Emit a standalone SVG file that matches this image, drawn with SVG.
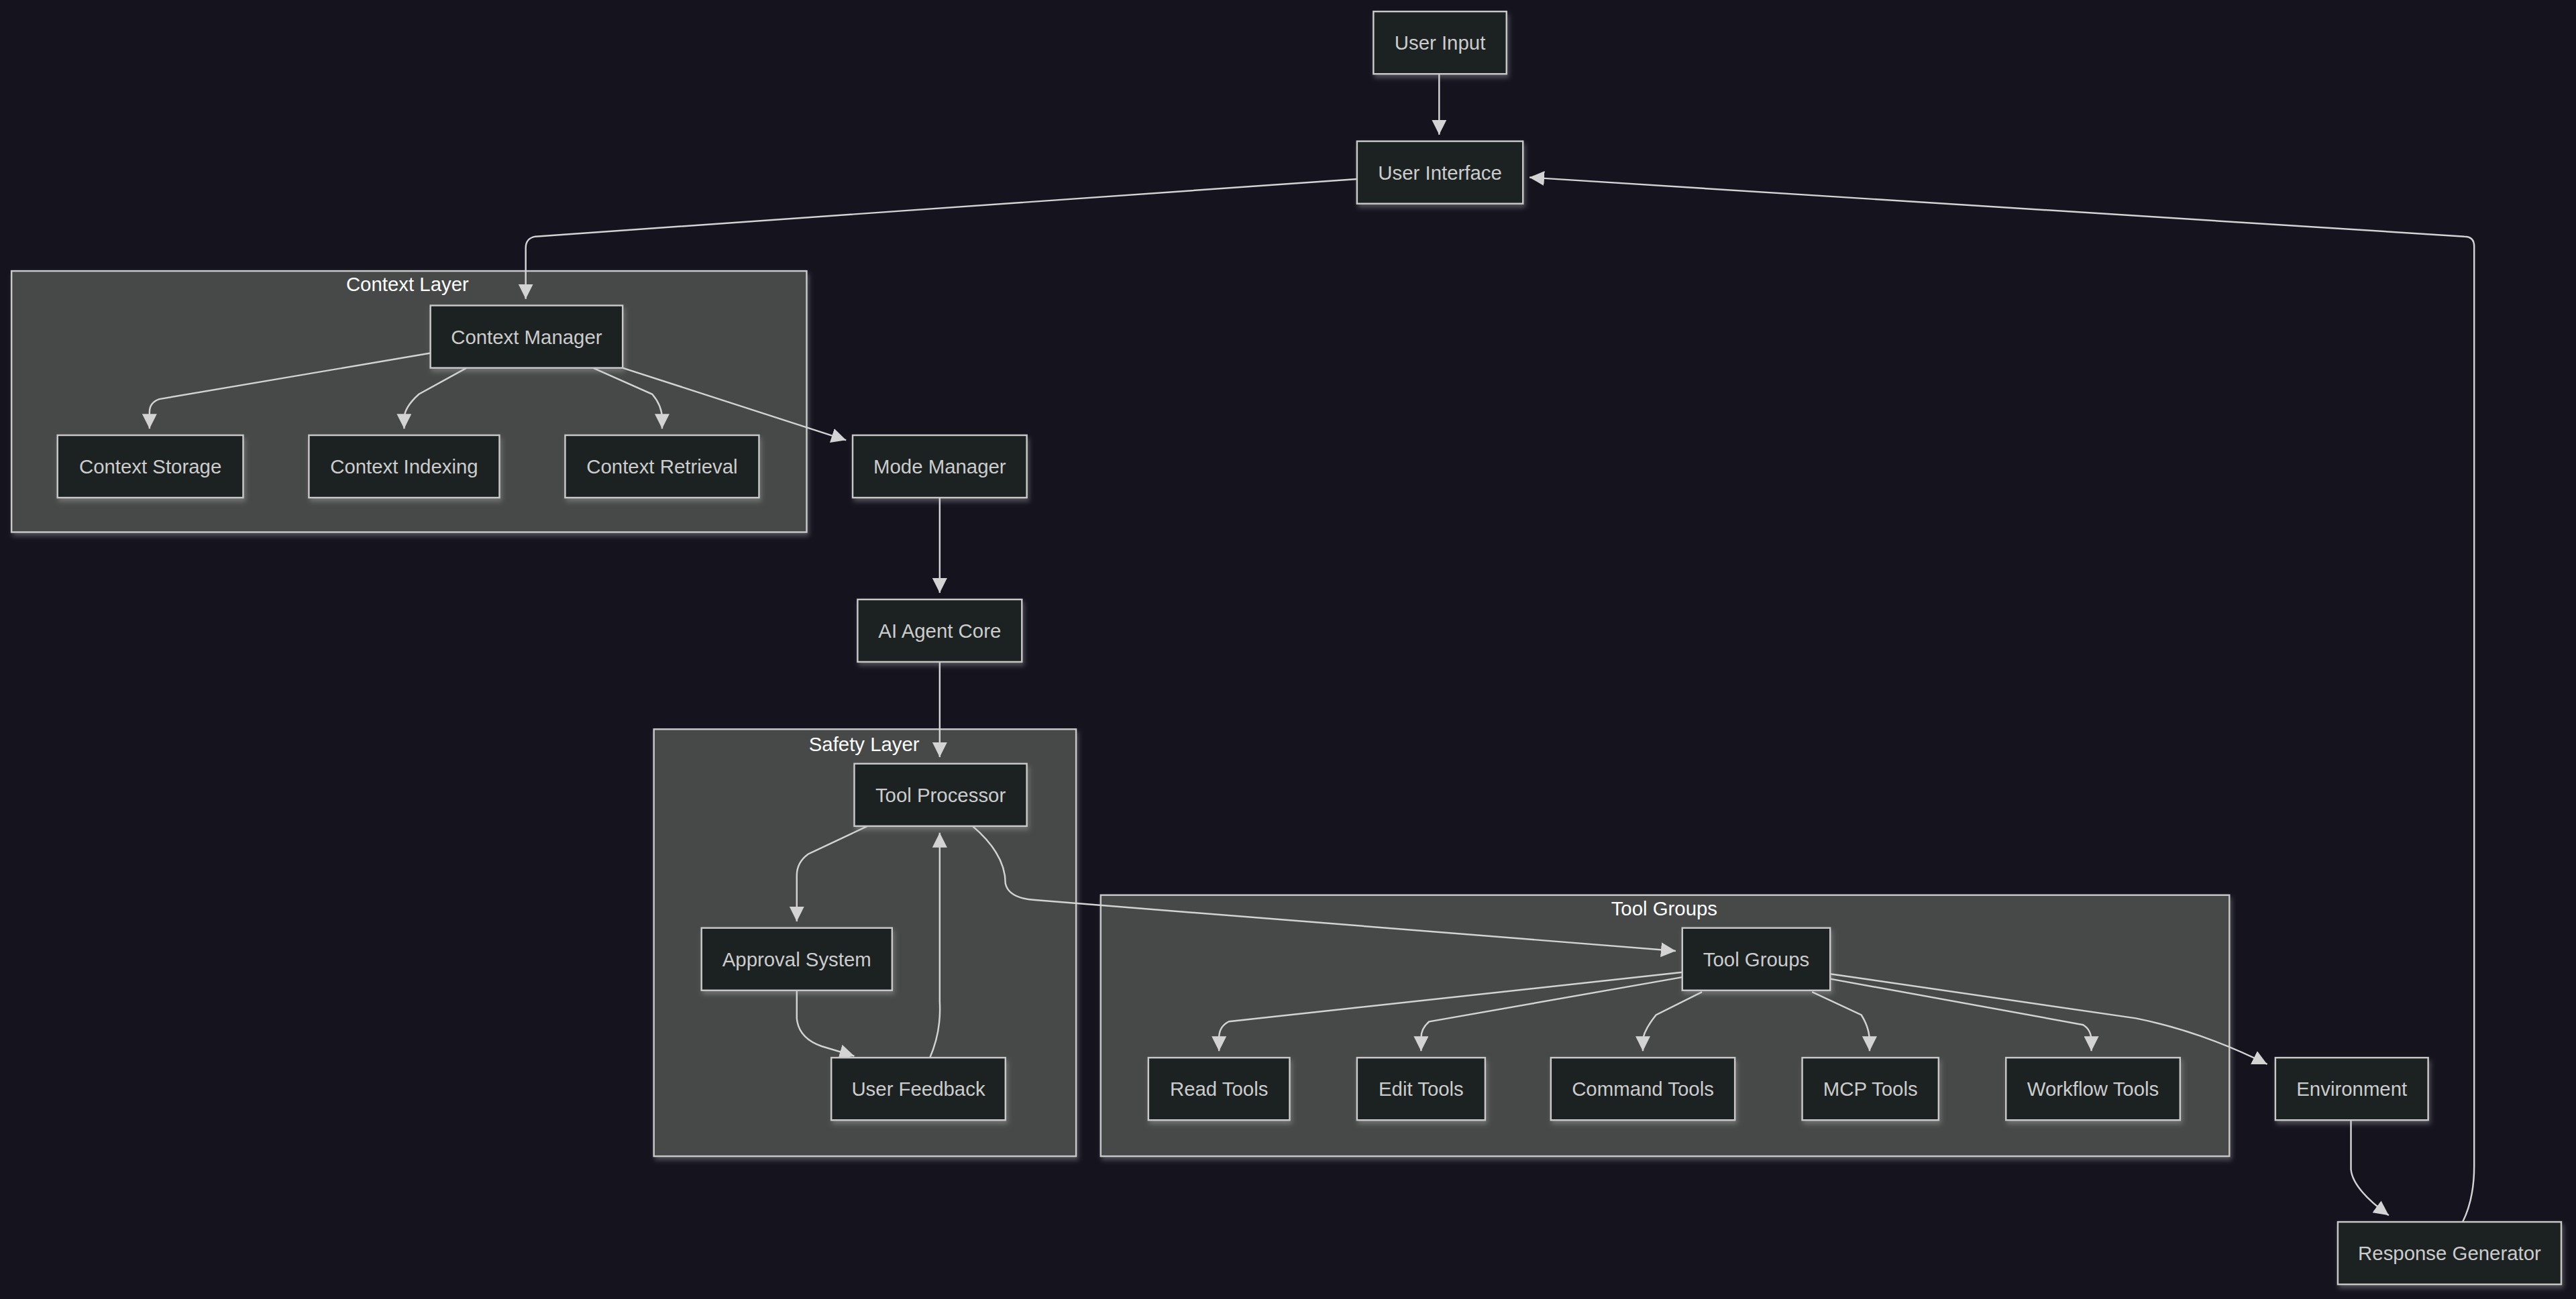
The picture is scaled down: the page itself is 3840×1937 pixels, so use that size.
<svg xmlns="http://www.w3.org/2000/svg" width="3840" height="1937" viewBox="0 0 3840 1937">
<style>
.n rect{fill:#1f2020;stroke:#c8c8c8;stroke-width:1;filter:url(#sh)}
.n text{fill:#cccccc;font-family:"Liberation Sans",Arial,sans-serif;font-size:12px;text-anchor:middle;dominant-baseline:central}
.c rect{fill:#474949;stroke:#c8c8c8;stroke-width:1;filter:url(#sh)}
.c text{fill:#ffffff;font-family:"Liberation Sans",Arial,sans-serif;font-size:12px;text-anchor:middle;dominant-baseline:central}
.e path{fill:none;stroke:#d3d3d3;stroke-width:1;marker-end:url(#ar)}
</style>
<defs>
<marker id="ar" markerUnits="userSpaceOnUse" viewBox="0 0 10 10" refX="10" refY="5" markerWidth="9" markerHeight="9" orient="auto"><path d="M0,0L10,5L0,10z" fill="#d3d3d3"/></marker>
<filter id="sh" x="-10%" y="-10%" width="120%" height="130%"><feDropShadow dx="1" dy="2" stdDeviation="1.5" flood-color="#bbbbbb" flood-opacity="0.35"/></filter>
</defs>
<rect width="3840" height="1937" fill="#14131e"/>
<g transform="scale(2.449)">
<g id="cl-context" class="c"><rect x="7" y="165" width="484" height="159"/><text x="248" y="173">Context Layer</text></g>
<g id="cl-safety" class="c"><rect x="398" y="444" width="257" height="260"/><text x="526" y="453">Safety Layer</text></g>
<g id="cl-tools" class="c"><rect x="670" y="545" width="687" height="159"/><text x="1013" y="553">Tool Groups</text></g>
<g class="e" id="edges">
<path d="M876,45V82"/>
<path d="M826,109L326,144Q320,145 320,151V182"/>
<path d="M262,215L97,243Q91,245 91,251V261"/>
<path d="M284,224L255,240Q246,248 246,255V261"/>
<path d="M361,224L397,240Q403,247 403,255V261"/>
<path d="M379,224L515,268"/>
<path d="M572,303V361"/>
<path d="M572,403V461"/>
<path d="M528,503L492,520Q485,525 485,533V561"/>
<path d="M485,603V620Q486,632 500,637L520,643"/>
<path d="M566,644Q573,628 572,610V507"/>
<path d="M592,503Q612,520 612,538Q614,547 630,548L1020,579"/>
<path d="M1024,592L748,622Q742,625 742,632V640"/>
<path d="M1024,595L870,622Q865,626 865,632V640"/>
<path d="M1036,604L1008,618Q1000,628 1000,634V640"/>
<path d="M1103,604L1133,618Q1138,626 1138,634V640"/>
<path d="M1114,596L1268,624Q1273,627 1273,634V640"/>
<path d="M1114,593L1300,620Q1340,628 1380,648"/>
<path d="M1431,682V712Q1432,724 1454,740"/>
<path d="M1499,744Q1506,730 1506,710V150Q1506,144 1500,144L931,108"/>
</g>
<g id="userInput" class="n"><rect x="836" y="7" width="81" height="38"/><text x="876.5" y="26">User Input</text></g>
<g id="userInterface" class="n"><rect x="826" y="86" width="101" height="38"/><text x="876.5" y="105">User Interface</text></g>
<g id="contextManager" class="n"><rect x="262" y="186" width="117" height="38"/><text x="320.5" y="205">Context Manager</text></g>
<g id="contextStorage" class="n"><rect x="35" y="265" width="113" height="38"/><text x="91.5" y="284">Context Storage</text></g>
<g id="contextIndexing" class="n"><rect x="188" y="265" width="116" height="38"/><text x="246" y="284">Context Indexing</text></g>
<g id="contextRetrieval" class="n"><rect x="344" y="265" width="118" height="38"/><text x="403" y="284">Context Retrieval</text></g>
<g id="modeManager" class="n"><rect x="519" y="265" width="106" height="38"/><text x="572" y="284">Mode Manager</text></g>
<g id="aiCore" class="n"><rect x="522" y="365" width="100" height="38"/><text x="572" y="384">AI Agent Core</text></g>
<g id="toolProcessor" class="n"><rect x="520" y="465" width="105" height="38"/><text x="572.5" y="484">Tool Processor</text></g>
<g id="approval" class="n"><rect x="427" y="565" width="116" height="38"/><text x="485" y="584">Approval System</text></g>
<g id="feedback" class="n"><rect x="506" y="644" width="106" height="38"/><text x="559" y="663">User Feedback</text></g>
<g id="toolGroups" class="n"><rect x="1024" y="565" width="90" height="38"/><text x="1069" y="584">Tool Groups</text></g>
<g id="readTools" class="n"><rect x="699" y="644" width="86" height="38"/><text x="742" y="663">Read Tools</text></g>
<g id="editTools" class="n"><rect x="826" y="644" width="78" height="38"/><text x="865" y="663">Edit Tools</text></g>
<g id="commandTools" class="n"><rect x="944" y="644" width="112" height="38"/><text x="1000" y="663">Command Tools</text></g>
<g id="mcpTools" class="n"><rect x="1097" y="644" width="83" height="38"/><text x="1138.5" y="663">MCP Tools</text></g>
<g id="workflowTools" class="n"><rect x="1221" y="644" width="106" height="38"/><text x="1274" y="663">Workflow Tools</text></g>
<g id="environment" class="n"><rect x="1385" y="644" width="93" height="38"/><text x="1431.5" y="663">Environment</text></g>
<g id="responseGen" class="n"><rect x="1423" y="744" width="136" height="38"/><text x="1491" y="763">Response Generator</text></g>
</g>
</svg>
